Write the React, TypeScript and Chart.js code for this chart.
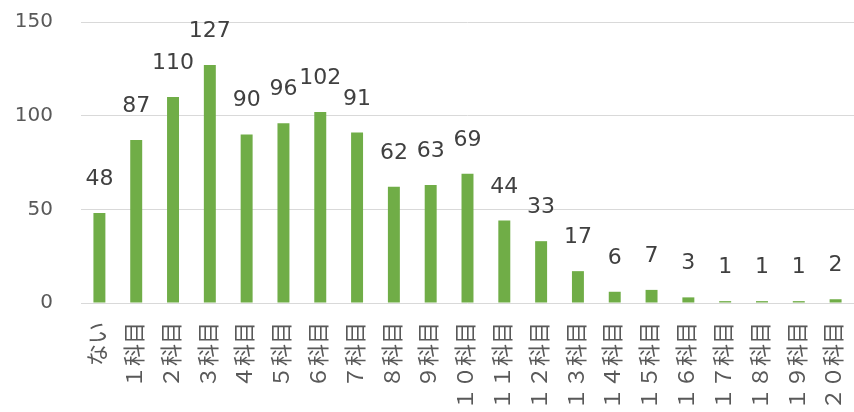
import React, { useEffect, useRef } from "react";
import { Chart, registerables } from "chart.js";

Chart.register(...registerables);

const categories = [
  "ない", "１科目", "２科目", "３科目", "４科目", "５科目", "６科目", "７科目",
  "８科目", "９科目", "１０科目", "１１科目", "１２科目", "１３科目", "１４科目",
  "１５科目", "１６科目", "１７科目", "１８科目", "１９科目", "２０科目",
];
const counts = [48, 87, 110, 127, 90, 96, 102, 91, 62, 63, 69, 44, 33, 17, 6, 7, 3, 1, 1, 1, 2];
const yTicks = [0, 50, 100, 150];

const LATIN = '"DejaVu Sans", Verdana, sans-serif';
const CJK = '"DejaVu Sans", "Noto Sans CJK JP", sans-serif';

const dataLabels = {
  id: "dataLabels",
  afterDatasetsDraw(chart: any) {
    const ctx = chart.ctx;
    const meta = chart.getDatasetMeta(0);
    ctx.save();
    ctx.font = `22px ${LATIN}`;
    ctx.fillStyle = "#404040";
    ctx.textAlign = "center";
    ctx.textBaseline = "alphabetic";
    meta.data.forEach((bar: any, i: number) => {
      ctx.fillText(String(counts[i]), bar.x, bar.y - 28);
    });
    ctx.restore();
  },
};

export default function App() {
  const ref = useRef<HTMLCanvasElement>(null);
  useEffect(() => {
    const chart = new Chart(ref.current!, {
      type: "bar",
      data: {
        labels: categories,
        datasets: [
          {
            data: counts,
            backgroundColor: "#70AD47",
            barPercentage: 0.65,
            categoryPercentage: 0.5,
          },
        ],
      },
      options: {
        responsive: false,
        animation: false,
        layout: { padding: { top: 22, right: 0, left: 0, bottom: 0 } },
        plugins: { legend: { display: false }, tooltip: { enabled: false } },
        scales: {
          x: {
            grid: { display: false, drawTicks: false },
            border: { display: false },
            ticks: {
              autoSkip: false,
              minRotation: 90,
              maxRotation: 90,
              padding: 19,
              color: "#595959",
              font: { family: CJK, size: 22 },
            },
            afterFit(scale: any) {
              scale.height = 109;
              scale.paddingLeft = 0;
              scale.paddingRight = 0;
            },
          },
          y: {
            min: 0,
            max: 150,
            afterBuildTicks(scale: any) {
              scale.ticks = yTicks.map((v) => ({ value: v }));
            },
            grid: { color: "#d9d9d9", drawTicks: false, lineWidth: 1 },
            border: { display: false },
            ticks: {
              padding: 28,
              color: "#595959",
              font: { family: LATIN, size: 20 },
            },
            afterFit(scale: any) {
              scale.width = 81;
              scale.paddingTop = 0;
              scale.paddingBottom = 0;
            },
          },
        },
      },
      plugins: [dataLabels],
    });
    return () => chart.destroy();
  }, []);
  return (
    <div style={{ position: "fixed", left: 0, top: 0, width: 854, height: 412, background: "#fff" }}>
      <canvas ref={ref} width={854} height={412} />
    </div>
  );
}
